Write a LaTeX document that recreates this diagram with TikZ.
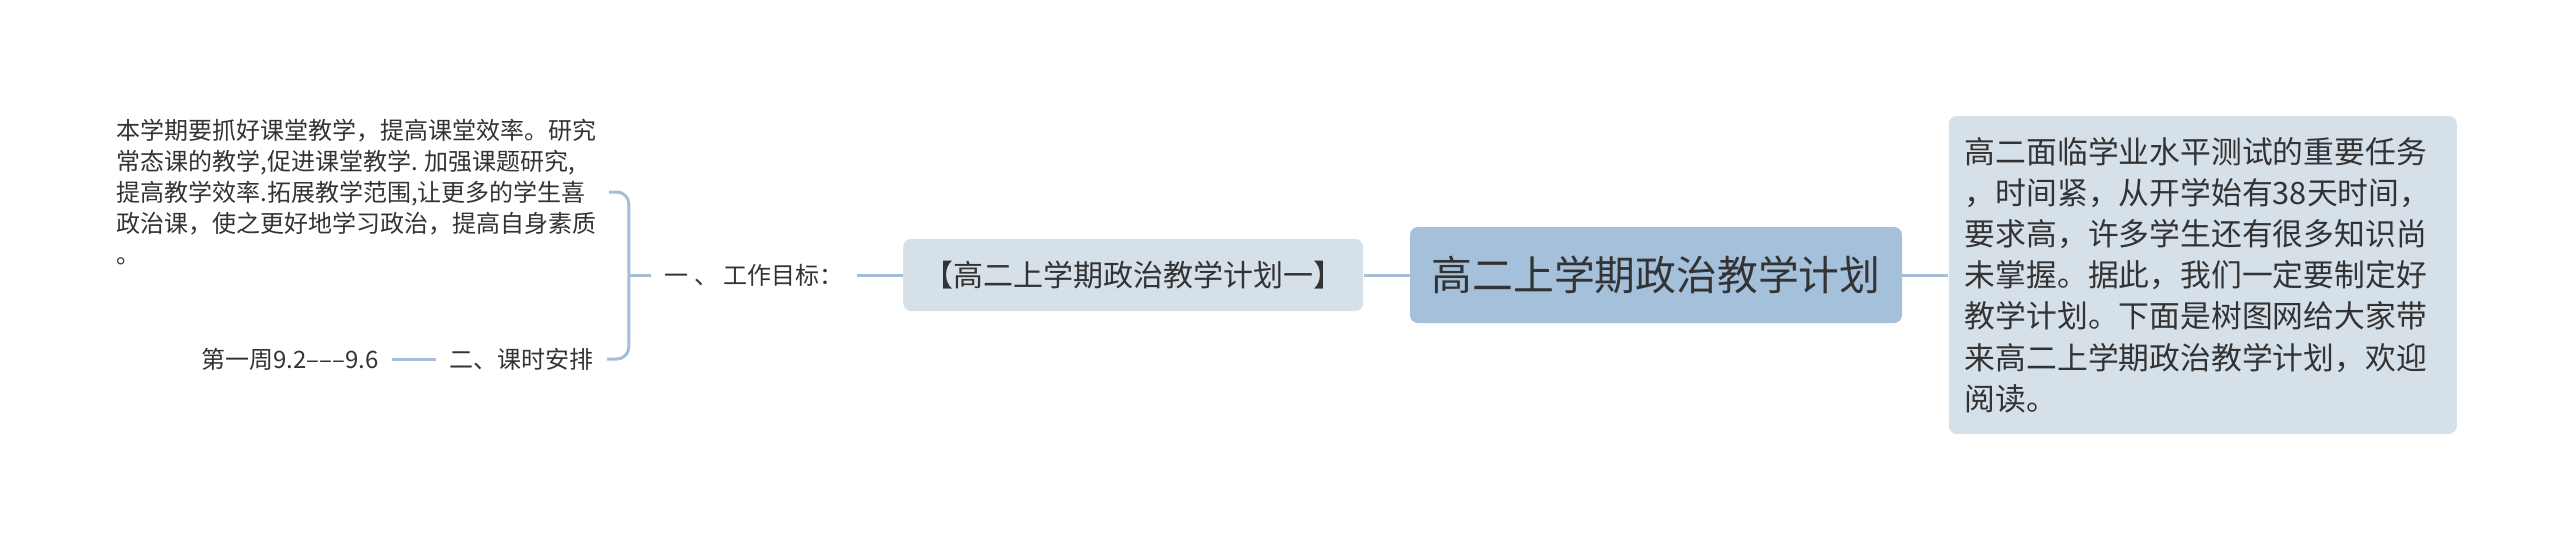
\documentclass[tikz,border=0pt]{standalone}
\usepackage{fontspec}
\setmainfont{Noto Sans CJK SC}
\usepackage{tikz}
\usetikzlibrary{positioning}
\definecolor{rootblue}{HTML}{A4C0DB}
\definecolor{topicgrey}{HTML}{D5E0E9}
\definecolor{linkblue}{HTML}{A5BDD6}
\definecolor{inkgrey}{HTML}{333333}

\begin{document}
\begin{tikzpicture}
          [x=0.5pt, y=-0.5pt,
           every node/.style={text=inkgrey},
           root/.style={fill=rootblue, rounded corners=4pt, minimum width=246pt, minimum height=48pt, font=\fontsize{20.4}{24}\selectfont},
           topic/.style={fill=topicgrey, rounded corners=4pt},
           plain/.style={inner ysep=2pt, inner xsep=6.5pt, font=\fontsize{12}{15.5}\selectfont},
           link/.style={draw=linkblue, line width=1.5pt}]
          \useasboundingbox (0,0) rectangle (2560,537);

          \node (c) [root] at (1656,275) {高二上学期政治教学计划};
          \node (r) [topic, right = 23pt of c, text width=238pt, align=left, inner xsep=8pt, minimum height=159pt,
                     font=\fontsize{15.4}{20.6}\selectfont]
                {高二面临学业水平测试的重要任务\\
                 ，时间紧，从开学始有38天时间，\\
                 要求高，许多学生还有很多知识尚\\
                 未掌握。据此，我们一定要制定好\\
                 教学计划。下面是树图网给大家带\\
                 来高二上学期政治教学计划，欢迎\\
                 阅读。};
          \node (a) [topic, left = 23pt of c, minimum width=230pt, minimum height=36pt, font=\fontsize{15}{18}\selectfont]
                {【高二上学期政治教学计划一】};
          \node (g) [plain, left = 23pt of a] {一 、 工作目标：};
          \node (p) [plain, anchor=west, inner xsep=6pt, align=left] at (104,192)
                {本学期要抓好课堂教学，提高课堂效率。研究\\
                 常态课的教学,促进课堂教学. 加强课题研究,\\
                 提高教学效率.拓展教学范围,让更多的学生喜\\
                 政治课，使之更好地学习政治，提高自身素质\\
                 。};
          \node (k) [plain, anchor=east] at (607,359) {二、课时安排};
          \node (w) [plain, left = 22pt of k] {第一周9.2–––9.6};

          \draw[link] (c) -- (r);
          \draw[link] (a) -- (c);
          \draw[link] (g) -- (a);
          \draw[link, rounded corners=6pt] (p.east) -- ++(10pt,0) |- (k.east);
          \draw[link] (g.west) -- ++(-11pt,0);
          \draw[link] (w) -- (k);
        \end{tikzpicture}
\end{document}
